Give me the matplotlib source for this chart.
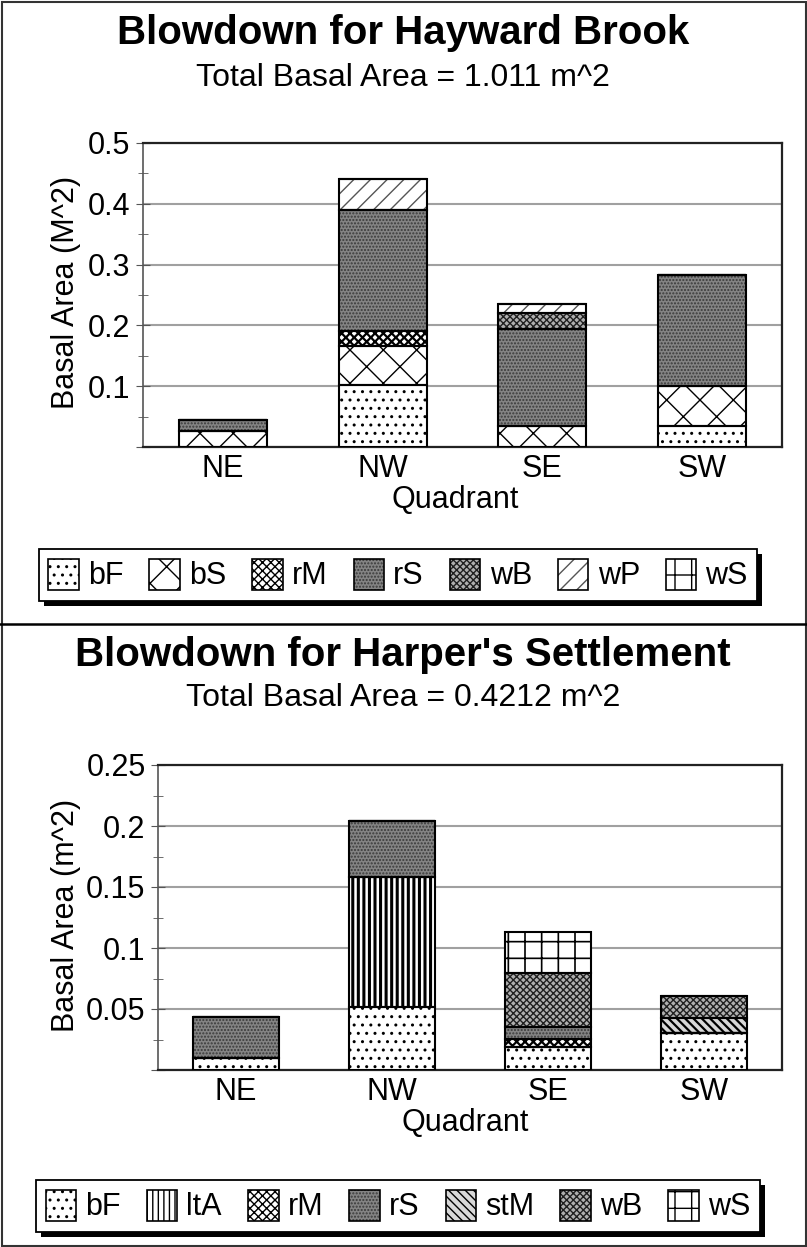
import matplotlib
matplotlib.use("Agg")
from matplotlib import pyplot as plt
from matplotlib.patches import Rectangle
from matplotlib.ticker import MultipleLocator
from matplotlib.legend_handler import HandlerTuple

plt.rcParams['font.family'] = ['Liberation Sans', 'DejaVu Sans']
plt.rcParams['hatch.linewidth'] = 1.0

quadrants = ['NE', 'NW', 'SE', 'SW']

# Hayward Brook, basal area (m^2) per species per quadrant
hb_species = ['bF', 'bS', 'rM', 'rS', 'wB', 'wP', 'wS']
hb_bF = [0.0, 0.1025, 0.0, 0.034]
hb_bS = [0.026, 0.063, 0.034, 0.066]
hb_rM = [0.0, 0.025, 0.0, 0.0]
hb_rS = [0.019, 0.1985, 0.160, 0.1825]
hb_wB = [0.0, 0.0, 0.026, 0.0]
hb_wP = [0.0, 0.0525, 0.0155, 0.0]
hb_wS = [0.0, 0.0, 0.0, 0.0]
hb_values = [hb_bF, hb_bS, hb_rM, hb_rS, hb_wB, hb_wP, hb_wS]

# Harper's Settlement
hs_species = ['bF', 'ltA', 'rM', 'rS', 'stM', 'wB', 'wS']
hs_bF = [0.0096, 0.052, 0.019, 0.0306]
hs_ltA = [0.0, 0.1066, 0.0, 0.0]
hs_rM = [0.0, 0.0, 0.0066, 0.0]
hs_rS = [0.0336, 0.0459, 0.0093, 0.0]
hs_stM = [0.0, 0.0, 0.0, 0.0117]
hs_wB = [0.0, 0.0, 0.0448, 0.0186]
hs_wS = [0.0, 0.0, 0.0336, 0.0]
hs_values = [hs_bF, hs_ltA, hs_rM, hs_rS, hs_stM, hs_wB, hs_wS]

# fill colour, hatch, hatch colour, hatch width for each species
styles = {
    'bF': ('white', '..', 'black', 1.0),
    'bS': ('white', 'x', 'black', 1.0),
    'rM': ('white', 'xxxx', 'black', 1.6),
    'rS': ('#848484', '.....', '#3a3a3a', 1.0),
    'wB': ('#b0b0b0', 'xxxxx', '#202020', 1.0),
    'wP': ('white', '//', '#555555', 1.0),
    'wS': ('white', '+', 'black', 1.2),
    'ltA': ('white', '|||', 'black', 2.2),
    'stM': ('#d8d8d8', '\\\\\\\\', 'black', 1.6),
}

W, H = 807, 1247
fig = plt.figure(figsize=(W / 100, H / 100), dpi=100)

FS = 22


def box(px):
    # pixel box (left, top, right, bottom) -> figure fraction
    l, t, r, b = px
    return [l / W, 1 - b / H, (r - l) / W, (b - t) / H]


def draw_bars(ax, values, species):
    x = list(range(len(quadrants)))
    bottom = [0.0] * len(quadrants)
    handles = []
    for name, vals in zip(species, values):
        fc, hatch, hc, hw = styles[name]
        with plt.rc_context({'hatch.linewidth': hw}):
            ax.bar(x, vals, 0.55, bottom=bottom, color=fc, hatch=hatch,
                   edgecolor=hc, linewidth=0, zorder=3)
            fill = Rectangle((0, 0), 1, 1, facecolor=fc, hatch=hatch,
                             edgecolor=hc, linewidth=0)
        outline = Rectangle((0, 0), 1, 1, fill=False, edgecolor='black',
                            linewidth=1.2)
        handles.append((fill, outline))
        ax.bar(x, vals, 0.55, bottom=bottom, fill=False,
               edgecolor='black', linewidth=1.5, zorder=4)
        bottom = [b + v for b, v in zip(bottom, vals)]
    return handles


def setup(ax, ymax, major, yticks, ylabels):
    ax.set_xlim(-0.5, 3.5)
    ax.set_ylim(0, ymax)
    ax.set_xticks(range(4))
    ax.set_xticklabels(quadrants, fontsize=FS)
    ax.tick_params(axis='x', length=0, pad=5)
    ax.set_yticks(yticks)
    ax.set_yticklabels(ylabels, fontsize=FS)
    ax.yaxis.set_minor_locator(MultipleLocator(major / 2))
    ax.tick_params(axis='y', which='major', direction='inout', length=10,
                   color='#555555', pad=4)
    ax.tick_params(axis='y', which='minor', direction='inout', length=7,
                   color='#555555')
    ax.yaxis.grid(True, color='#a0a0a0', linewidth=1.5, zorder=0)
    ax.set_axisbelow(True)
    for s in ['top', 'right', 'bottom']:
        ax.spines[s].set_linewidth(1.6)
        ax.spines[s].set_color('#222222')
    ax.spines['left'].set_color('#555555')
    ax.spines['left'].set_linewidth(1.2)


# top chart
ax1 = fig.add_axes(box((143, 143, 782, 447)))
h1 = draw_bars(ax1, hb_values, hb_species)
setup(ax1, 0.5, 0.1, [0, 0.1, 0.2, 0.3, 0.4, 0.5],
      ['', '0.1', '0.2', '0.3', '0.4', '0.5'])
fig.text(403 / W, 1 - 33 / H, 'Blowdown for Hayward Brook', ha='center',
         va='center', fontsize=29, fontweight='bold')
fig.text(403 / W, 1 - 78 / H, 'Total Basal Area = 1.011 m^2', ha='center',
         va='center', fontsize=23)
fig.text(66 / W, 1 - 292 / H, 'Basal Area (M^2)', rotation=90, ha='center',
         va='center', fontsize=FS)
fig.text(455 / W, 1 - 500 / H, 'Quadrant', ha='center', va='center',
         fontsize=FS)

# bottom chart
ax2 = fig.add_axes(box((158, 765, 782, 1070)))
h2 = draw_bars(ax2, hs_values, hs_species)
setup(ax2, 0.25, 0.05, [0, 0.05, 0.1, 0.15, 0.2, 0.25],
      ['', '0.05', '0.1', '0.15', '0.2', '0.25'])
fig.text(403 / W, 1 - 655 / H, "Blowdown for Harper's Settlement",
         ha='center', va='center', fontsize=29, fontweight='bold')
fig.text(403 / W, 1 - 698 / H, 'Total Basal Area = 0.4212 m^2', ha='center',
         va='center', fontsize=23)
fig.text(66 / W, 1 - 915 / H, 'Basal Area (m^2)', rotation=90, ha='center',
         va='center', fontsize=FS)
fig.text(465 / W, 1 - 1123 / H, 'Quadrant', ha='center', va='center',
         fontsize=FS)

legs = []
for handles, labels, cy in [(h1, hb_species, 575), (h2, hs_species, 1206)]:
    leg = fig.legend(handles, labels, loc='center',
                     bbox_to_anchor=(398 / W, 1 - cy / H), ncol=7,
                     fontsize=FS, frameon=True, fancybox=False,
                     framealpha=1, handlelength=1.0, handleheight=1.2,
                     handletextpad=0.3, columnspacing=0.85, borderpad=0.3,
                     borderaxespad=0, edgecolor='black',
                     handler_map={tuple: HandlerTuple(ndivide=1)})
    leg.get_frame().set_linewidth(1.3)
    legs.append(leg)

# drop shadows behind the legends
fig.canvas.draw()
for leg in legs:
    bb = leg.get_window_extent()
    fig.add_artist(Rectangle((bb.x0 + 5, bb.y0 - 5), bb.width, bb.height,
                             transform=None, facecolor='black',
                             edgecolor='none', zorder=leg.get_zorder() - 1))

# outer frame and divider
fig.add_artist(Rectangle((1.5 / W, 1.5 / H), 1 - 3 / W, 1 - 3 / H,
                         transform=fig.transFigure, fill=False,
                         edgecolor='#333333', linewidth=1.5))
fig.add_artist(plt.Line2D([0, 1], [1 - 624 / H, 1 - 624 / H],
                          transform=fig.transFigure, color='black',
                          linewidth=1.8))

fig.savefig('out.png', dpi=100)
